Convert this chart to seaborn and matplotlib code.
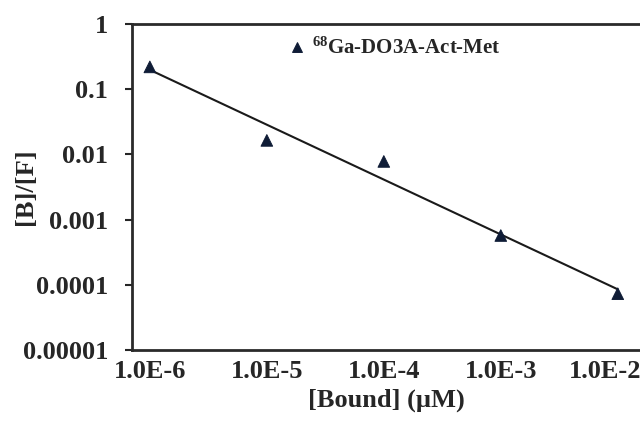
import numpy as np
import pandas as pd
import seaborn as sns
import matplotlib.pyplot as plt
from matplotlib.transforms import ScaledTranslation

# Values
bound = [1.0e-6, 1.0e-5, 1.0e-4, 1.0e-3, 1.0e-2]
ratio = [0.22, 0.0164, 0.0078, 0.00057, 0.000073]
series_name = '$^{68}$Ga-DO3A-Act-Met'

yticks = [1, 0.1, 0.01, 0.001, 0.0001, 0.00001]
ytick_labels = ['1', '0.1', '0.01', '0.001', '0.0001', '0.00001']
xticks = [1.0e-6, 1.0e-5, 1.0e-4, 1.0e-3, 1.0e-2]
xtick_labels = ['1.0E-6', '1.0E-5', '1.0E-4', '1.0E-3', '1.0E-2']

sns.set_style('ticks')
plt.rcParams['font.family'] = ['Liberation Serif', 'DejaVu Serif']
plt.rcParams['font.weight'] = 'bold'
plt.rcParams['mathtext.fontset'] = 'custom'
plt.rcParams['mathtext.rm'] = 'Liberation Serif:bold'
plt.rcParams['mathtext.it'] = 'Liberation Serif:bold'
plt.rcParams['mathtext.bf'] = 'Liberation Serif:bold'

df = pd.DataFrame({'bound': bound, 'ratio': ratio, 'series': series_name})

# power-law trendline (straight line in log-log), like the Excel fit
slope, icpt = np.polyfit(np.log10(bound), np.log10(ratio), 1)
fit = pd.DataFrame({'bound': [bound[0], bound[-1]]})
fit['ratio'] = 10 ** (icpt + slope * np.log10(fit['bound']))

fig, ax = plt.subplots(figsize=(6.4, 4.25), dpi=100)
fig.subplots_adjust(left=0.206, right=1.0, top=0.9435, bottom=0.1765)

sns.lineplot(data=fit, x='bound', y='ratio', color='#1a1a1a', linewidth=1.5, ax=ax, legend=False)
sns.scatterplot(data=df, x='bound', y='ratio', hue='series', palette=['#0f1c36'],
                marker='^', s=70, edgecolor='#0f1c36', ax=ax, zorder=3)

ax.set_xscale('log')
ax.set_yscale('log')
ax.set_xlim(10 ** -6.154, 10 ** -1.81)
ax.set_ylim(1e-5, 1)

ax.set_yticks(yticks, labels=ytick_labels)
ax.set_xticks(xticks, labels=xtick_labels)
ax.minorticks_off()
ax.tick_params(axis='y', direction='out', length=5, width=1.5, labelsize=19, pad=12)
ax.tick_params(axis='x', length=0, labelsize=19, pad=7)

# last x label sits a bit left in the original so it only just fits the edge
last = ax.get_xticklabels()[-1]
last.set_transform(last.get_transform() + ScaledTranslation(-9 / 72, 0, fig.dpi_scale_trans))

for side in ['left', 'bottom', 'top']:
    ax.spines[side].set_linewidth(2)
    ax.spines[side].set_color('#2a2a2a')
ax.spines['right'].set_visible(False)

ax.set_xlabel('[Bound] (µM)', fontsize=19, fontweight='bold', labelpad=4)
ax.set_ylabel('[B]/[F]', fontsize=19, fontweight='bold')
ax.yaxis.label.set_va('center')
ax.yaxis.set_label_coords(-0.21, 0.5)

leg = ax.legend(loc='center left', bbox_to_anchor=(0.288, 0.925), frameon=False,
                fontsize=15, handlelength=0.8, handletextpad=0.3, borderpad=0,
                markerscale=0.8)
for t in leg.get_texts():
    t.set_fontweight('bold')

fig.savefig('out.png', dpi=100)
